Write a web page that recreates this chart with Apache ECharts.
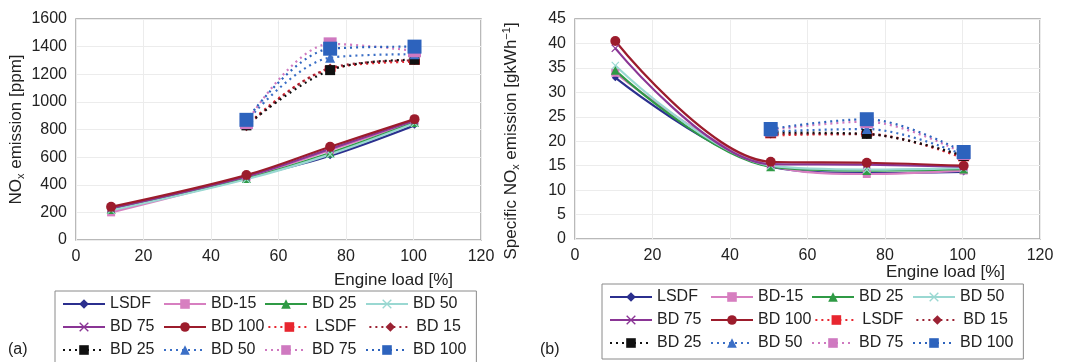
<!DOCTYPE html>
<html><head><meta charset="utf-8">
<script src="https://cdn.jsdelivr.net/npm/echarts@6/dist/echarts.min.js"></script>
<style>html,body{margin:0;padding:0;background:#fff}#c{width:1069px;height:362px}</style>
</head><body><div id="c"></div>
<script>
// Engine load (x) values
const loadsAll = [10.4, 50.5, 75.3, 100.3];
const loadsHigh = [50.5, 75.3, 100.3];
const xTicks = [0, 20, 40, 60, 80, 100, 120];

// Series names (solid = first group, dotted = second group)
const solidNames = ['LSDF', 'BD-15', 'BD 25', 'BD 50', 'BD 75', 'BD 100'];
const dottedNames = ['LSDF ', 'BD 15 ', 'BD 25 ', 'BD 50 ', 'BD 75 ', 'BD 100 '];

// (a) NOx emission [ppm]
const noxSolid_LSDF = [210, 450, 610, 830];
const noxSolid_BD15 = [200, 455, 650, 860];
const noxSolid_BD25 = [220, 445, 630, 850];
const noxSolid_BD50 = [215, 440, 620, 845];
const noxSolid_BD75 = [230, 460, 660, 865];
const noxSolid_BD100 = [240, 470, 675, 875];
const noxDot_LSDF = [830, 1240, 1290];
const noxDot_BD15 = [820, 1245, 1300];
const noxDot_BD25 = [830, 1230, 1305];
const noxDot_BD50 = [860, 1320, 1345];
const noxDot_BD75 = [850, 1420, 1370];
const noxDot_BD100 = [870, 1385, 1400];

// (b) Specific NOx emission [g/kWh]
const specSolid_LSDF = [33.0, 14.8, 13.5, 13.7];
const specSolid_BD15 = [34.0, 15.0, 13.3, 14.0];
const specSolid_BD25 = [34.5, 14.8, 14.0, 14.3];
const specSolid_BD50 = [35.5, 15.0, 14.2, 14.5];
const specSolid_BD75 = [39.0, 15.3, 15.2, 14.8];
const specSolid_BD100 = [40.5, 15.8, 15.6, 15.0];
const specDot_LSDF = [21.2, 21.5, 16.5];
const specDot_BD15 = [21.5, 21.4, 16.8];
const specDot_BD25 = [21.8, 21.5, 17.0];
const specDot_BD50 = [22.0, 22.5, 17.2];
const specDot_BD75 = [22.3, 24.0, 17.5];
const specDot_BD100 = [22.5, 24.5, 17.8];

const FONT = 'Liberation Sans, Arial, sans-serif';
const TXT = '#222';
const X_PATH = 'path://M1,0 L5,4 L9,0 L10,1 L6,5 L10,9 L9,10 L5,6 L1,10 L0,9 L4,5 L0,1 Z';

const solidStyle = [
  {color: '#2b2f8e', symbol: 'diamond', size: 7},
  {color: '#d77fc0', symbol: 'rect', size: 8},
  {color: '#2f9a45', symbol: 'triangle', size: 9},
  {color: '#9ad8d2', symbol: X_PATH, size: 8},
  {color: '#8a3595', symbol: X_PATH, size: 8},
  {color: '#9c1c2c', symbol: 'circle', size: 10}
];
const dotStyle = [
  {color: '#e8262f', symbol: 'rect', size: [11, 6]},
  {color: '#9b2233', symbol: 'diamond', size: 9},
  {color: '#111111', symbol: 'rect', size: 10},
  {color: '#3b6fc6', symbol: 'triangle', size: 10},
  {color: '#cf79c0', symbol: 'rect', size: 13},
  {color: '#2d63bd', symbol: 'rect', size: 14}
];

function pairs(xs, ys) { return xs.map((x, i) => [x, ys[i]]); }

function mkSeries(idx, solidVals, dotVals) {
  const out = [];
  solidVals.forEach((vals, i) => {
    const st = solidStyle[i];
    out.push({
      type: 'line', name: solidNames[i], xAxisIndex: idx, yAxisIndex: idx,
      data: pairs(loadsAll, vals), smooth: 0.35,
      symbol: st.symbol, symbolSize: st.size, showSymbol: true,
      lineStyle: {color: st.color, width: 2.2},
      itemStyle: {color: st.color}, emphasis: {disabled: true}, animation: false
    });
  });
  dotVals.forEach((vals, i) => {
    const st = dotStyle[i];
    out.push({
      type: 'line', name: dottedNames[i], xAxisIndex: idx, yAxisIndex: idx,
      data: pairs(loadsHigh, vals), smooth: 0.35,
      symbol: st.symbol, symbolSize: st.size, showSymbol: true,
      lineStyle: {color: st.color, width: 2.2, type: [2, 4]},
      itemStyle: {color: st.color}, emphasis: {disabled: true}, animation: false
    });
  });
  return out;
}

const allNames = [...solidNames, ...dottedNames];

function mkLegend(left, top) {
  return {
    data: allNames, left: left, top: top, width: 440, orient: 'horizontal',
    padding: [3, 10, 6, 7], borderColor: '#8a8a8a', borderWidth: 1,
    itemWidth: 42, itemHeight: 12, itemGap: 3, selectedMode: false,
    formatter: n => n.trim(),
    textStyle: {fontFamily: FONT, fontSize: 16, color: TXT, width: 50, lineHeight: 20}
  };
}

function mkX(idx, gap, pad) {
  return {
    type: 'value', gridIndex: idx, min: xTicks[0], max: xTicks[xTicks.length - 1], interval: 20,
    name: 'Engine load [%]', nameLocation: 'end', nameGap: gap, nameMoveOverlap: false,
    nameTextStyle: {fontFamily: FONT, fontSize: 17, color: TXT, align: 'right', verticalAlign: 'top', padding: [pad, 0, 0, 0]},
    axisLine: {show: false}, axisTick: {show: false},
    axisLabel: {fontFamily: FONT, fontSize: 16, color: TXT, margin: 9, formatter: v => String(v)},
    splitLine: {show: true, lineStyle: {color: '#ececec', width: 1}}
  };
}

function mkY(idx, max, interval, name, gap, shift) {
  return {
    type: 'value', gridIndex: idx, min: 0, max: max, interval: interval,
    name: name, nameLocation: 'middle', nameGap: gap, nameMoveOverlap: false,
    nameTextStyle: {
      fontFamily: FONT, fontSize: 17, color: TXT, padding: [0, shift, 0, 0],
      rich: {
        a: {fontFamily: FONT, fontSize: 17, color: TXT, lineHeight: 20},
        s: {fontFamily: FONT, fontSize: 11, color: TXT, lineHeight: 8, verticalAlign: 'bottom'},
        p: {fontFamily: FONT, fontSize: 11, color: TXT, lineHeight: 8, verticalAlign: 'top'}
      }
    },
    axisLine: {show: false}, axisTick: {show: false},
    axisLabel: {fontFamily: FONT, fontSize: 16, color: TXT, margin: 9, formatter: v => String(v)},
    splitLine: {show: true, lineStyle: {color: '#ececec', width: 1}}
  };
}

const chart = echarts.init(document.getElementById('c'), null, {renderer: 'canvas'});
chart.setOption({
  backgroundColor: '#fff',
  animation: false,
  grid: [
    {left: 76, right: 588, top: 19, bottom: 122, show: true, borderColor: '#a3a3a3', borderWidth: 1.5, backgroundColor: '#fff'},
    {left: 575, right: 29, top: 19, bottom: 123, show: true, borderColor: '#a3a3a3', borderWidth: 1.5, backgroundColor: '#fff'}
  ],
  xAxis: [mkX(0, -28, 32), mkX(1, -35, 25)],
  yAxis: [
    mkY(0, 1600, 200, '{a|NO}{s|x}{a| emission [ppm]}', 50, 0),
    mkY(1, 45, 5, '{a|Specific NO}{s|x}{a| emission [gkWh}{p|−1}{a|]}', 54, 24)
  ],
  legend: [mkLegend(55, 291), mkLegend(602, 284)],
  graphic: [
    {type: 'text', left: 8, top: 342, style: {text: '(a)', fontFamily: FONT, fontSize: 16, fill: TXT}},
    {type: 'text', left: 540, top: 342, style: {text: '(b)', fontFamily: FONT, fontSize: 16, fill: TXT}}
  ],
  series: [
    ...mkSeries(0,
      [noxSolid_LSDF, noxSolid_BD15, noxSolid_BD25, noxSolid_BD50, noxSolid_BD75, noxSolid_BD100],
      [noxDot_LSDF, noxDot_BD15, noxDot_BD25, noxDot_BD50, noxDot_BD75, noxDot_BD100]),
    ...mkSeries(1,
      [specSolid_LSDF, specSolid_BD15, specSolid_BD25, specSolid_BD50, specSolid_BD75, specSolid_BD100],
      [specDot_LSDF, specDot_BD15, specDot_BD25, specDot_BD50, specDot_BD75, specDot_BD100])
  ]
});
</script></body></html>
